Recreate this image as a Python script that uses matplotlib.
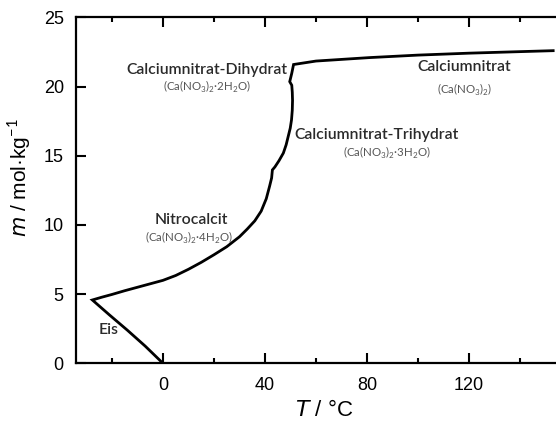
import matplotlib
matplotlib.use('Agg')
import matplotlib.pyplot as plt
from matplotlib.ticker import MultipleLocator

# Eis (ice) liquidus
T_ice = [0, -7, -14, -21, -27.7]
m_ice = [0, 1.25, 2.4, 3.5, 4.58]

# Nitrocalcit (tetrahydrate) liquidus
T_tetra = [-27.7, -24, -20, -15, -10, -5, 0, 5, 10, 15, 20, 25, 30, 33, 36, 38.5, 40.5, 41.8, 42.6]
m_tetra = [4.58, 4.78, 4.98, 5.25, 5.5, 5.75, 6.0, 6.35, 6.8, 7.3, 7.85, 8.43, 9.15, 9.7, 10.3, 11.0, 11.9, 12.8, 13.4]

# trihydrate liquidus
T_tri = [42.6, 42.9, 43.9, 45.5, 47.2, 48.3, 49.1, 49.9, 50.4, 50.7, 50.8, 50.7, 50.5, 49.7]
m_tri = [13.4, 13.98, 14.2, 14.65, 15.2, 15.8, 16.4, 17.0, 17.6, 18.3, 19.0, 19.6, 20.1, 20.36]

# dihydrate liquidus
T_di = [49.7, 50.5, 51.2]
m_di = [20.36, 20.97, 21.6]

# anhydrous Ca(NO3)2
T_anh = [51.2, 60, 81, 100, 120, 140, 153]
m_anh = [21.6, 21.85, 22.1, 22.28, 22.42, 22.53, 22.6]

labels = ['Calciumnitrat-Dihydrat', 'Calciumnitrat', 'Calciumnitrat-Trihydrat', 'Nitrocalcit', 'Eis']
label_T = [17.3, 118.3, 83.8, 11.3, -21.4]
label_m = [21.2, 21.45, 16.5, 10.36, 2.41]
formulas = [r'(Ca(NO$_3$)$_2$·2H$_2$O)', r'(Ca(NO$_3$)$_2$)', r'(Ca(NO$_3$)$_2$·3H$_2$O)',
            r'(Ca(NO$_3$)$_2$·4H$_2$O)']
formula_T = [17.3, 118.3, 87.7, 10.4]
formula_m = [20.0, 19.76, 15.2, 9.04]

plt.rcParams['font.family'] = ['Liberation Sans', 'DejaVu Sans']
plt.rcParams['mathtext.fontset'] = 'custom'
plt.rcParams['mathtext.rm'] = 'Lato'

fig = plt.figure(figsize=(5.56, 4.22), dpi=100)
ax = fig.add_axes([0.1372, 0.139, 0.8898, 0.8196])

T_all = T_ice + T_tetra[1:] + T_tri[1:] + T_di[1:] + T_anh[1:]
m_all = m_ice + m_tetra[1:] + m_tri[1:] + m_di[1:] + m_anh[1:]
ax.plot(T_all, m_all, color='black', lw=2, solid_joinstyle='miter')

ax.set_xlim(-34, 160)
ax.set_ylim(0, 25)
ax.xaxis.set_major_locator(MultipleLocator(40))
ax.xaxis.set_minor_locator(MultipleLocator(20))
ax.yaxis.set_major_locator(MultipleLocator(5))
ax.tick_params(which='both', direction='in', top=True, right=True, width=1.5, labelsize=13)
ax.tick_params(axis='x', pad=10)
ax.tick_params(axis='y', pad=9)
ax.tick_params(which='major', length=7)
ax.tick_params(which='minor', length=3.5)
for s in ax.spines.values():
    s.set_linewidth(1.6)

ax.set_xlabel(r'$\it{T}$ / °C', fontsize=16, labelpad=4)
ax.set_ylabel(r'$\it{m}$ / mol·kg$^{-1}$', fontsize=15)
ax.yaxis.set_label_coords(-0.088, 0.536)

for i in range(len(labels)):
    ax.text(label_T[i], label_m[i], labels[i], ha='center', va='center', fontsize=11.3,
            family='Lato', weight='semibold', color='#2a2a2a')
for i in range(len(formulas)):
    ax.text(formula_T[i], formula_m[i], formulas[i], ha='center', va='center', fontsize=8.3,
            family='Lato', color='#555555')

plt.savefig('out.png', dpi=100)
